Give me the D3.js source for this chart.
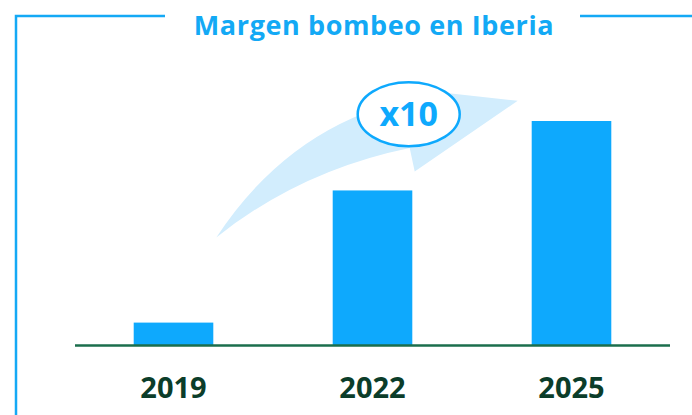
<!DOCTYPE html>
<html>
<head>
<meta charset="utf-8">
<script src="https://cdn.jsdelivr.net/npm/d3@7"></script>
<style>
  body { margin: 0; background: #fff; }
  svg { display: block; }
</style>
</head>
<body>
<svg id="chart" width="692" height="415"></svg>
<script>
// data
var years = ['2019', '2022', '2025'];
var margen = [1, 6.9, 10];
var titulo = 'Margen bombeo en Iberia';
var factor = 'x10';

var blue = '#0ea9fd',
    lightBlue = '#d2edfd',
    green = '#1b6e4c',
    darkGreen = '#0b3d2a';

var svg = d3.select('#chart');

var x = d3.scaleBand()
  .domain(years)
  .range([75, 670])
  .paddingInner(0.6)
  .paddingOuter(0.295);

var y = d3.scaleLinear()
  .domain([0, 10])
  .range([345, 121]);

// frame round the chart
svg.append('path')
  .attr('d', 'M16,415 V16 H165 M580,16 H692')
  .attr('fill', 'none')
  .attr('stroke', '#14a9f5')
  .attr('stroke-width', 2.5);

svg.append('text')
  .attr('x', 374)
  .attr('y', 35)
  .attr('text-anchor', 'middle')
  .style('font-family', 'Open Sans')
  .style('font-weight', 700)
  .style('font-size', '27px')
  .style('letter-spacing', '0.6px')
  .attr('fill', '#13a9f5')
  .text(titulo);

// growth arrow, placed from the bars
var x0 = x('2019') + x.bandwidth() + 3,
    x1 = x('2022'),
    x2 = x('2025');
var arrow = d3.path();
arrow.moveTo(x0, y(4.8));
arrow.quadraticCurveTo(x0 + 84, y(7.8), x1 + 77, y(8.8));
arrow.lineTo(x1 + 82, y(7.75));
arrow.lineTo(x2 - 14, y(10.9));
arrow.lineTo(x1 + 114, y(11.25));
arrow.quadraticCurveTo(x0 + 84, y(10.5), x0, y(4.8));
arrow.closePath();

svg.append('path')
  .attr('d', arrow.toString())
  .attr('fill', lightBlue);

// bars
svg.append('g')
  .selectAll('rect')
  .data(years)
  .enter()
  .append('rect')
  .attr('x', function(d) { return x(d); })
  .attr('y', function(d, i) { return y(margen[i]); })
  .attr('width', x.bandwidth())
  .attr('height', function(d, i) { return y(0) - y(margen[i]); })
  .attr('fill', blue);

// baseline + year labels
var axis = svg.append('g')
  .attr('transform', 'translate(0,' + y(0) + ')')
  .call(d3.axisBottom(x).tickSize(0).tickPadding(32));
axis.select('.domain')
  .attr('d', 'M75,0.5H670')
  .attr('stroke', green)
  .attr('stroke-width', 2.5);
axis.selectAll('text')
  .style('font-family', 'Open Sans')
  .style('font-weight', 700)
  .style('font-size', '29px')
  .attr('fill', darkGreen);

// x10 badge
var bx = x1 + 76, by = y(10.3);
svg.append('ellipse')
  .attr('cx', bx)
  .attr('cy', by)
  .attr('rx', 51)
  .attr('ry', 32)
  .attr('fill', '#fff')
  .attr('stroke', blue)
  .attr('stroke-width', 2.5);

svg.append('text')
  .attr('x', bx)
  .attr('y', by + 12)
  .attr('text-anchor', 'middle')
  .style('font-family', 'Open Sans')
  .style('font-weight', 700)
  .style('font-size', '34px')
  .attr('fill', blue)
  .text(factor);
</script>
</body>
</html>
